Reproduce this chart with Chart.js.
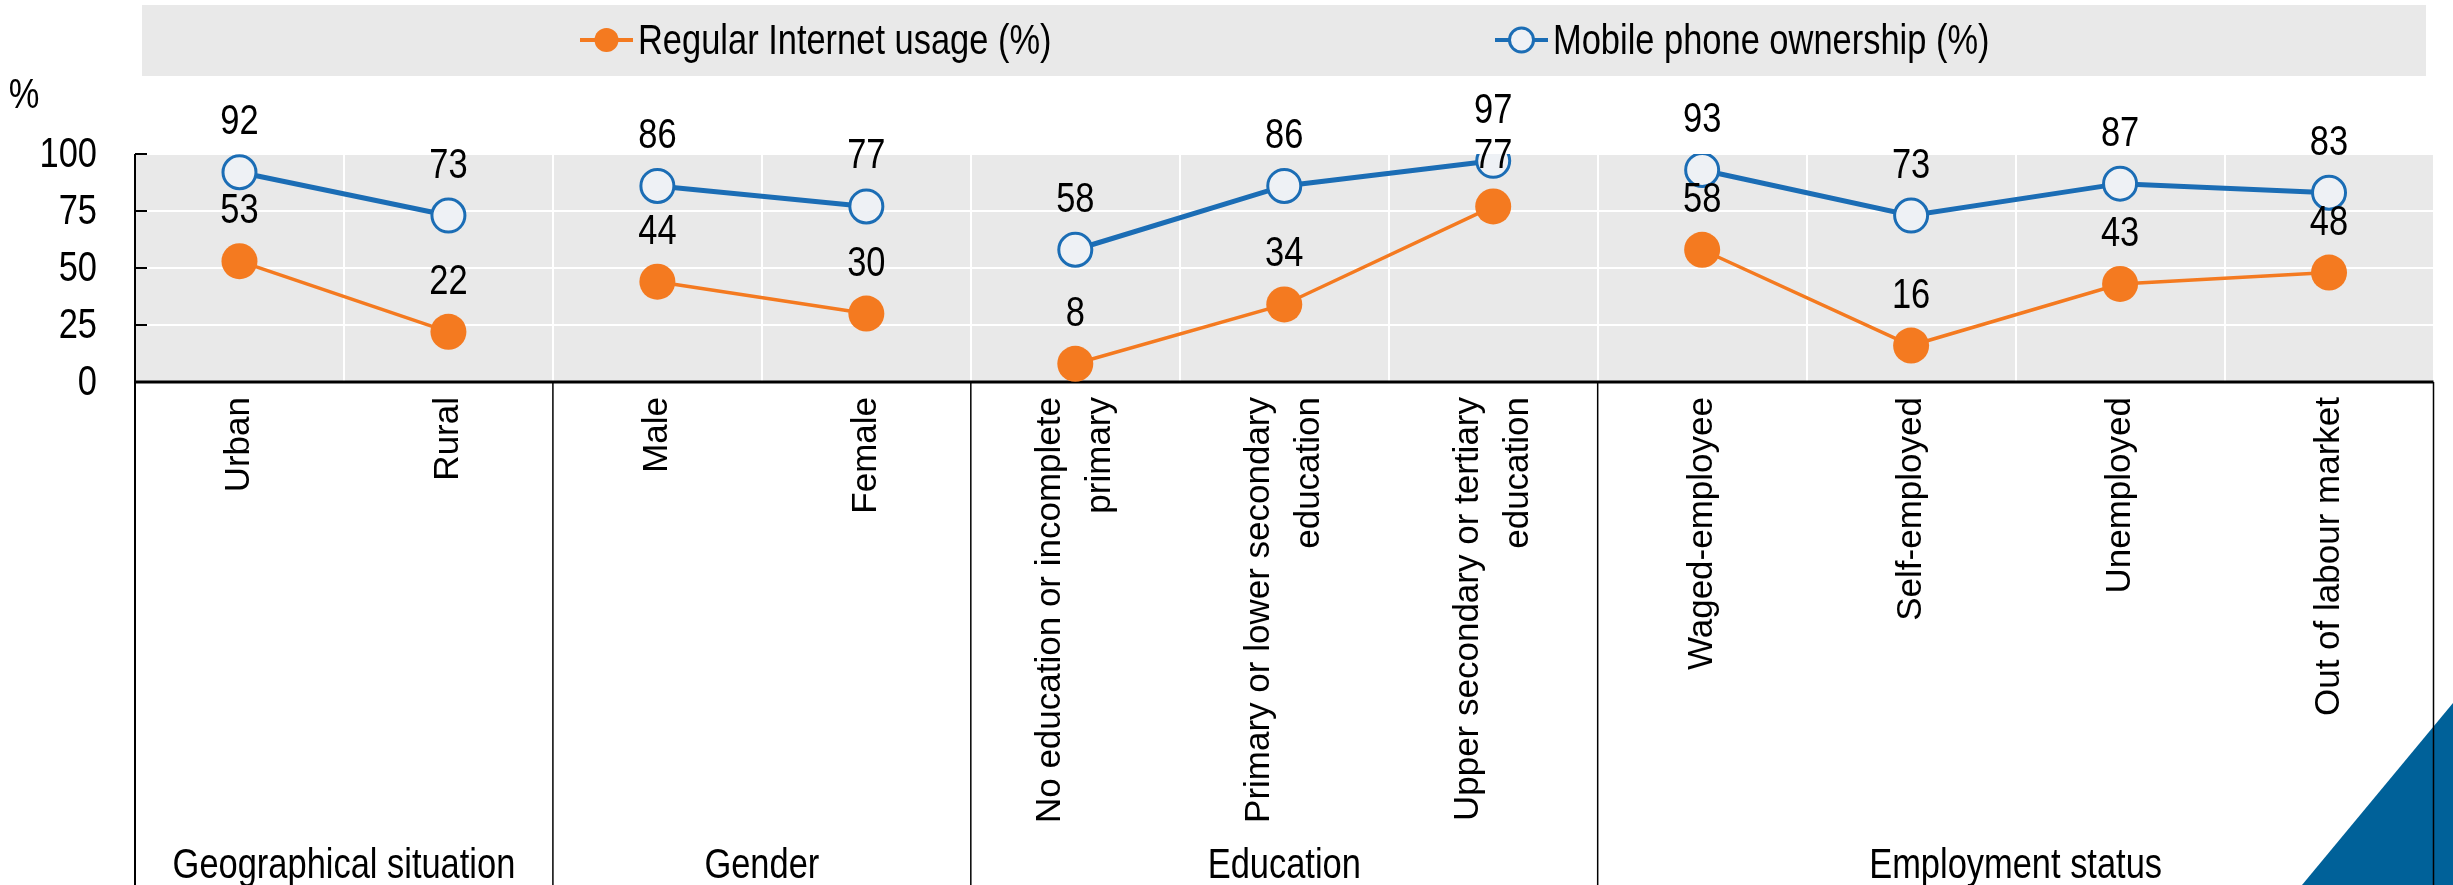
<!DOCTYPE html>
<html>
<head>
<meta charset="utf-8">
<script src="https://cdn.jsdelivr.net/npm/chart.js@4.4.0/dist/chart.umd.min.js"></script>
<style>
  html, body { margin: 0; padding: 0; background: #fff; }
  canvas { display: block; }
</style>
</head>
<body>
<canvas id="chart" width="2453" height="885"></canvas>
<script>
// categories (multi-line labels as arrays) and the group each one belongs to
const categories = [
  ['Urban'], ['Rural'],
  ['Male'], ['Female'],
  ['No education or incomplete', 'primary'],
  ['Primary or lower secondary', 'education'],
  ['Upper secondary or tertiary', 'education'],
  ['Waged-employee'], ['Self-employed'], ['Unemployed'], ['Out of labour market']
];
const groupNames = ['Geographical situation', 'Gender', 'Education', 'Employment status'];
const groupOf = [0, 0, 1, 1, 2, 2, 2, 3, 3, 3, 3];

const internetUsage = [53, 22, 44, 30, 8, 34, 77, 58, 16, 43, 48];
const mobileOwnership = [92, 73, 86, 77, 58, 86, 97, 93, 73, 87, 83];

const yTicks = [0, 25, 50, 75, 100];

const FONT = '"Liberation Sans", Arial, sans-serif';
const ORANGE = '#f47a20';
const BLUE = '#1b6db5';
const MARKER_FILL = '#eef1f5';

// no narrow face installed, so squeeze the regular one horizontally
function narrowText(ctx, text, x, y, align) {
  ctx.save();
  ctx.translate(x, y);
  ctx.scale(0.82, 1);
  ctx.textAlign = align;
  ctx.fillText(text, 0, 0);
  ctx.restore();
}

// hide the line between the last point of a group and the first of the next one
const splitGroups = ctx =>
  groupOf[ctx.p0DataIndex] !== groupOf[ctx.p1DataIndex] ? 'rgba(0,0,0,0)' : undefined;

const decorations = {
  id: 'decorations',
  beforeDraw(chart) {
    const { ctx, chartArea: a } = chart;
    ctx.save();
    ctx.fillStyle = '#e9e9e9';
    ctx.fillRect(a.left, a.top, a.right - a.left, a.bottom - a.top);
    // legend panel
    ctx.fillRect(142, 5, 2284, 71);
    ctx.restore();
  },
  beforeDatasetsDraw(chart) {
    const { ctx, chartArea: a } = chart;
    const x = chart.scales.x, y = chart.scales.y;
    const H = chart.height;
    ctx.save();

    // corner triangle
    ctx.fillStyle = '#006199';
    ctx.beginPath();
    ctx.moveTo(2302, H);
    ctx.lineTo(chart.width, H);
    ctx.lineTo(chart.width, 703);
    ctx.closePath();
    ctx.fill();

    ctx.strokeStyle = '#000';
    ctx.lineWidth = 2;
    ctx.beginPath();
    ctx.moveTo(a.left, a.top);
    ctx.lineTo(a.left, H);
    ctx.stroke();

    // y ticks: inside marks + labels
    ctx.fillStyle = '#000';
    ctx.font = '42px ' + FONT;
    ctx.textBaseline = 'middle';
    yTicks.forEach(v => {
      const py = Math.round(y.getPixelForValue(v));
      if (v !== 0) {
        ctx.beginPath();
        ctx.moveTo(a.left, py);
        ctx.lineTo(a.left + 12, py);
        ctx.stroke();
      }
      narrowText(ctx, String(v), 97, py + 1, 'right');
    });
    ctx.textBaseline = 'alphabetic';
    narrowText(ctx, '%', 24, 108, 'center');

    // group separators and right border
    ctx.lineWidth = 1.5;
    const half = (x.getPixelForValue(1) - x.getPixelForValue(0)) / 2;
    for (let i = 0; i < categories.length; i++) {
      const last = i === categories.length - 1;
      if (last || groupOf[i] !== groupOf[i + 1]) {
        const px = last ? a.right : x.getPixelForValue(i) + half;
        ctx.beginPath();
        ctx.moveTo(px, a.bottom);
        ctx.lineTo(px, H);
        ctx.stroke();
      }
    }
    ctx.lineWidth = 3;
    ctx.beginPath();
    ctx.moveTo(a.left, a.bottom);
    ctx.lineTo(a.right, a.bottom);
    ctx.stroke();

    // category labels, rotated
    ctx.font = '35px ' + FONT;
    ctx.textAlign = 'right';
    ctx.textBaseline = 'middle';
    const lh = 50;
    categories.forEach((lines, i) => {
      const px = x.getPixelForValue(i);
      ctx.save();
      ctx.translate(px, a.bottom + 15);
      ctx.rotate(-Math.PI / 2);
      lines.forEach((t, k) => ctx.fillText(t, 0, (k - (lines.length - 1) / 2) * lh));
      ctx.restore();
    });

    // group labels
    ctx.font = '42px ' + FONT;
    ctx.textBaseline = 'alphabetic';
    groupNames.forEach((g, gi) => {
      const idx = groupOf.map((v, i) => v === gi ? i : -1).filter(i => i >= 0);
      const l = x.getPixelForValue(idx[0]) - half;
      const r = x.getPixelForValue(idx[idx.length - 1]) + half;
      narrowText(ctx, g, (l + r) / 2, 878, 'center');
    });
    ctx.restore();
  },
  afterDatasetsDraw(chart) {
    const { ctx } = chart;
    ctx.save();
    ctx.font = '42px ' + FONT;
    ctx.fillStyle = '#000';
    ctx.textBaseline = 'alphabetic';
    chart.data.datasets.forEach((ds, di) => {
      chart.getDatasetMeta(di).data.forEach((pt, i) => {
        narrowText(ctx, String(ds.data[i]), pt.x, pt.y - 38, 'center');
      });
    });

    // legend
    const items = [
      { ds: chart.data.datasets[0], x0: 580 },
      { ds: chart.data.datasets[1], x0: 1495 }
    ];
    ctx.textBaseline = 'middle';
    items.forEach(({ ds, x0 }) => {
      const cy = 40;
      ctx.strokeStyle = ds.borderColor;
      ctx.lineWidth = 4;
      ctx.beginPath();
      ctx.moveTo(x0, cy);
      ctx.lineTo(x0 + 53, cy);
      ctx.stroke();
      ctx.beginPath();
      ctx.arc(x0 + 26.5, cy, 12, 0, Math.PI * 2);
      ctx.fillStyle = ds.pointBackgroundColor;
      ctx.fill();
      if (ds.pointBorderWidth) {
        ctx.lineWidth = 3;
        ctx.stroke();
      }
      ctx.fillStyle = '#000';
      narrowText(ctx, ds.label, x0 + 58, cy + 2, 'left');
    });
    ctx.restore();
  }
};

new Chart(document.getElementById('chart'), {
  type: 'line',
  data: {
    labels: categories.map(c => c.join(' ')),
    datasets: [
      {
        label: 'Regular Internet usage (%)',
        data: internetUsage,
        borderColor: ORANGE,
        borderWidth: 3.5,
        pointRadius: 18,
        pointHoverRadius: 18,
        pointBackgroundColor: ORANGE,
        pointBorderColor: ORANGE,
        pointBorderWidth: 0,
        segment: { borderColor: splitGroups }
      },
      {
        label: 'Mobile phone ownership (%)',
        data: mobileOwnership,
        borderColor: BLUE,
        borderWidth: 5,
        pointRadius: 16.5,
        pointHoverRadius: 16.5,
        pointBackgroundColor: MARKER_FILL,
        pointBorderColor: BLUE,
        pointBorderWidth: 3,
        segment: { borderColor: splitGroups }
      }
    ]
  },
  options: {
    responsive: false,
    animation: false,
    devicePixelRatio: 1,
    layout: { padding: { top: 154, right: 9, left: 0, bottom: 0 } },
    plugins: {
      legend: { display: false },
      tooltip: { enabled: false }
    },
    scales: {
      x: {
        type: 'category',
        offset: true,
        grid: { color: '#ffffff', lineWidth: 2, offset: true, drawTicks: false },
        border: { display: false },
        ticks: { display: false },
        afterFit: s => { s.height = 503; }
      },
      y: {
        min: 0,
        max: 100,
        afterBuildTicks: s => { s.ticks = yTicks.map(v => ({ value: v })); },
        grid: { color: '#ffffff', lineWidth: 2, drawTicks: false },
        border: { display: false },
        ticks: { display: false },
        afterFit: s => { s.width = 135; }
      }
    }
  },
  plugins: [decorations]
});
</script>
</body>
</html>
